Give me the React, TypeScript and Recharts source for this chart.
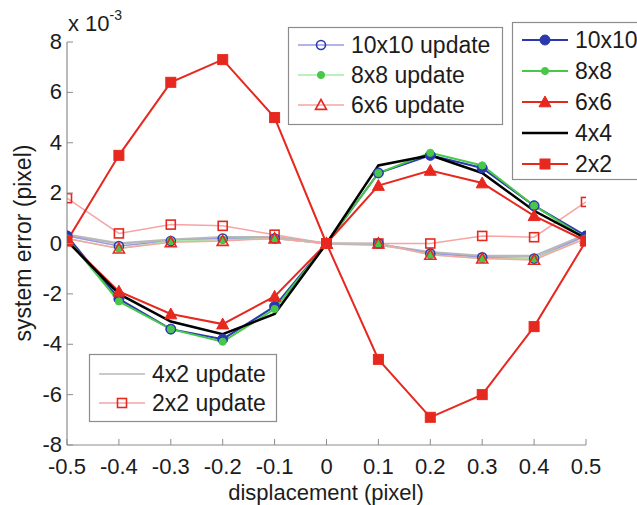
import React from 'react';
import { LineChart, Line, XAxis, YAxis, Label } from 'recharts';

// displacement (pixel) along x, system error in units of 1e-3 pixel
const displacement = [-0.5, -0.4, -0.3, -0.2, -0.1, 0, 0.1, 0.2, 0.3, 0.4, 0.5];
const xTicks = [-0.5, -0.4, -0.3, -0.2, -0.1, 0, 0.1, 0.2, 0.3, 0.4, 0.5];
const yTicks = [-8, -6, -4, -2, 0, 2, 4, 6, 8];

const err10x10 = [0.3, -2.2, -3.4, -3.8, -2.5, 0, 2.8, 3.5, 3.0, 1.5, 0.3];
const err8x8 = [0.2, -2.3, -3.4, -3.9, -2.6, 0, 2.8, 3.6, 3.1, 1.5, 0.2];
const err6x6 = [0.1, -1.9, -2.8, -3.2, -2.1, 0, 2.3, 2.9, 2.4, 1.1, 0.1];
const err4x4 = [0.1, -2.0, -3.1, -3.6, -2.8, 0, 3.1, 3.5, 2.8, 1.3, 0.2];
const err2x2 = [0.1, 3.5, 6.4, 7.3, 5.0, 0, -4.6, -6.9, -6.0, -3.3, 0.1];

const err10x10Upd = [0.3, -0.1, 0.1, 0.2, 0.2, 0, 0, -0.4, -0.55, -0.6, 0.3];
const err8x8Upd = [0.2, -0.2, 0.1, 0.15, 0.2, 0, 0, -0.45, -0.6, -0.6, 0.2];
const err6x6Upd = [0.2, -0.2, 0.05, 0.1, 0.2, 0, 0, -0.45, -0.6, -0.65, 0.2];
const err4x2Upd = [0.35, 0, 0.15, 0.25, 0.25, 0, -0.05, -0.35, -0.5, -0.5, 0.35];
const err2x2Upd = [1.8, 0.4, 0.75, 0.7, 0.35, 0, 0, 0, 0.3, 0.25, 1.65];

const FONT = '"Liberation Sans", Arial, sans-serif';
const FRAME = '#8c8c8c';
const TEXT = '#1c1c1c';

const BLUE = '#2a3aae';
const GREEN = '#48c848';
const RED = '#e6281f';

type Marker = 'circle' | 'dot' | 'triangle' | 'square' | 'none';

interface Series {
  key: string;
  name: string;
  values: number[];
  line: string;
  width: number;
  marker: Marker;
  markerColor: string;
  filled: boolean;
}

const SERIES: Series[] = [
  { key: 'u22', name: '2x2 update', values: err2x2Upd, line: '#f6a4a4', width: 1.5, marker: 'square', markerColor: RED, filled: false },
  { key: 'u42', name: '4x2 update', values: err4x2Upd, line: '#b8b8b8', width: 2.5, marker: 'none', markerColor: '#b8b8b8', filled: false },
  { key: 'u10', name: '10x10 update', values: err10x10Upd, line: '#9a9ae4', width: 1.5, marker: 'circle', markerColor: BLUE, filled: false },
  { key: 'u8', name: '8x8 update', values: err8x8Upd, line: '#a4eca4', width: 1.5, marker: 'dot', markerColor: GREEN, filled: true },
  { key: 'u6', name: '6x6 update', values: err6x6Upd, line: '#f6a4a4', width: 1.5, marker: 'triangle', markerColor: RED, filled: false },
  { key: 's10', name: '10x10', values: err10x10, line: BLUE, width: 2, marker: 'circle', markerColor: BLUE, filled: true },
  { key: 's8', name: '8x8', values: err8x8, line: GREEN, width: 2, marker: 'dot', markerColor: GREEN, filled: true },
  { key: 's6', name: '6x6', values: err6x6, line: RED, width: 2, marker: 'triangle', markerColor: RED, filled: true },
  { key: 's4', name: '4x4', values: err4x4, line: '#000000', width: 2.5, marker: 'none', markerColor: '#000000', filled: true },
  { key: 's2', name: '2x2', values: err2x2, line: RED, width: 2, marker: 'square', markerColor: RED, filled: true },
];

const rows = displacement.map((d, i) => {
  const row: Record<string, number> = { d };
  SERIES.forEach((s) => {
    row[s.key] = s.values[i];
  });
  return row;
});

function Glyph({ kind, cx, cy, color, filled }: { kind: Marker; cx: number; cy: number; color: string; filled: boolean }) {
  const fill = filled ? color : 'none';
  const sw = filled ? 1 : 1.6;
  if (kind === 'circle') {
    return <circle cx={cx} cy={cy} r={filled ? 5 : 4.5} fill={fill} stroke={color} strokeWidth={sw} />;
  }
  if (kind === 'dot') {
    return <circle cx={cx} cy={cy} r={3.6} fill={color} stroke={color} strokeWidth={1} />;
  }
  if (kind === 'triangle') {
    const h = filled ? 6 : 5.5;
    return (
      <polygon
        points={`${cx},${cy - h} ${cx - h},${cy + h * 0.8} ${cx + h},${cy + h * 0.8}`}
        fill={fill}
        stroke={color}
        strokeWidth={sw}
      />
    );
  }
  if (kind === 'square') {
    const h = filled ? 5 : 4.5;
    return <rect x={cx - h} y={cy - h} width={h * 2} height={h * 2} fill={fill} stroke={color} strokeWidth={sw} />;
  }
  return null;
}

function fmtX(v: number) {
  if (v === 0) return '0';
  return v.toFixed(1);
}

// eslint-disable-next-line @typescript-eslint/no-explicit-any
function BottomTick({ x, y, payload }: any) {
  return (
    <g>
      <line x1={x} y1={y} x2={x} y2={y - 6} stroke={FRAME} />
      <text x={x} y={y + 29} textAnchor="middle" fontSize={22} fontFamily={FONT} fill={TEXT}>
        {fmtX(payload.value)}
      </text>
    </g>
  );
}

// eslint-disable-next-line @typescript-eslint/no-explicit-any
function LeftTick({ x, y, payload }: any) {
  return (
    <g>
      <line x1={x} y1={y} x2={x + 6} y2={y} stroke={FRAME} />
      <text x={x - 5} y={y} dy="0.32em" textAnchor="end" fontSize={22} fontFamily={FONT} fill={TEXT}>
        {payload.value}
      </text>
    </g>
  );
}

// eslint-disable-next-line @typescript-eslint/no-explicit-any
function TopTick({ x, y }: any) {
  return <line x1={x} y1={y} x2={x} y2={y + 6} stroke={FRAME} />;
}

// eslint-disable-next-line @typescript-eslint/no-explicit-any
function RightTick({ x, y }: any) {
  return <line x1={x} y1={y} x2={x - 6} y2={y} stroke={FRAME} />;
}

function LegendBox({
  left,
  top,
  width,
  height,
  items,
  rowStart,
  rowGap,
}: {
  left: number;
  top: number;
  width: number;
  height: number;
  items: Series[];
  rowStart: number;
  rowGap: number;
}) {
  return (
    <svg width={width} height={height} style={{ position: 'absolute', left, top, overflow: 'visible' }}>
      <rect x={0.5} y={0.5} width={width} height={height - 1} fill="#ffffff" stroke={FRAME} strokeWidth={1.2} />
      {items.map((s, i) => {
        const cy = rowStart + i * rowGap;
        return (
          <g key={s.key}>
            <line x1={10} x2={56} y1={cy} y2={cy} stroke={s.line} strokeWidth={s.key === 'u42' ? 1.5 : s.width} />
            <Glyph kind={s.marker} cx={33} cy={cy} color={s.markerColor} filled={s.filled} />
            <text x={63} y={cy} dy="0.36em" fontSize={23} fontFamily={FONT} fill={TEXT}>
              {s.name}
            </text>
          </g>
        );
      })}
    </svg>
  );
}

const byKey = (k: string) => SERIES.find((s) => s.key === k) as Series;

export default function App() {
  return (
    <div style={{ position: 'absolute', left: 0, top: 0, width: 637, height: 505, background: '#fff', overflow: 'hidden', fontFamily: FONT }}>
      <LineChart width={637} height={505} data={rows} margin={{ top: 42, right: 51, bottom: 0, left: 0 }}>
        <XAxis
          dataKey="d"
          type="number"
          domain={[-0.5, 0.5]}
          ticks={xTicks}
          allowDataOverflow
          height={60}
          tickSize={0}
          tickMargin={0}
          tick={<BottomTick />}
          axisLine={{ stroke: FRAME, strokeWidth: 1.2 }}
          interval={0}
        >
          <Label
            content={() => (
              <text x={326} y={500} textAnchor="middle" fontSize={22} fontFamily={FONT} fill={TEXT}>
                displacement (pixel)
              </text>
            )}
          />
        </XAxis>
        <XAxis
          xAxisId="top"
          orientation="top"
          dataKey="d"
          type="number"
          domain={[-0.5, 0.5]}
          ticks={xTicks}
          allowDataOverflow
          height={0}
          tickSize={0}
          tickMargin={0}
          tick={<TopTick />}
          axisLine={{ stroke: FRAME, strokeWidth: 1.2 }}
          interval={0}
        />
        <YAxis
          type="number"
          domain={[-8, 8]}
          ticks={yTicks}
          allowDataOverflow
          width={67}
          tickSize={0}
          tickMargin={0}
          tick={<LeftTick />}
          axisLine={{ stroke: FRAME, strokeWidth: 1.2 }}
          interval={0}
        >
          <Label
            content={() => (
              <text
                x={23}
                y={243}
                transform="rotate(-90 23 243)"
                textAnchor="middle"
                dy="0.36em"
                fontSize={23}
                fontFamily={FONT}
                fill={TEXT}
              >
                system error (pixel)
              </text>
            )}
          />
        </YAxis>
        <YAxis
          yAxisId="right"
          orientation="right"
          type="number"
          domain={[-8, 8]}
          ticks={yTicks}
          allowDataOverflow
          width={0}
          tickSize={0}
          tickMargin={0}
          tick={<RightTick />}
          axisLine={{ stroke: FRAME, strokeWidth: 1.2 }}
          interval={0}
        />
        {SERIES.map((s) => (
          <Line
            key={s.key}
            dataKey={s.key}
            name={s.name}
            type="linear"
            stroke={s.line}
            strokeWidth={s.width}
            isAnimationActive={false}
            // eslint-disable-next-line @typescript-eslint/no-explicit-any
            dot={(p: any) => (
              <Glyph key={`${s.key}-${p.index}`} kind={s.marker} cx={p.cx} cy={p.cy} color={s.markerColor} filled={s.filled} />
            )}
            activeDot={false}
          />
        ))}
      </LineChart>

      {/* axis multiplier */}
      <div style={{ position: 'absolute', left: 68, top: 13, fontSize: 22, color: TEXT, lineHeight: '22px' }}>
        x 10<sup style={{ fontSize: 14, verticalAlign: 0, position: 'relative', top: -11 }}>-3</sup>
      </div>

      <LegendBox
        left={288}
        top={27}
        width={214}
        height={98}
        items={[byKey('u10'), byKey('u8'), byKey('u6')]}
        rowStart={18}
        rowGap={30}
      />
      <LegendBox
        left={512}
        top={22}
        width={140}
        height={158}
        items={[byKey('s10'), byKey('s8'), byKey('s6'), byKey('s4'), byKey('s2')]}
        rowStart={18}
        rowGap={31}
      />
      <LegendBox
        left={89}
        top={354}
        width={187}
        height={68}
        items={[byKey('u42'), byKey('u22')]}
        rowStart={20}
        rowGap={29}
      />
    </div>
  );
}
